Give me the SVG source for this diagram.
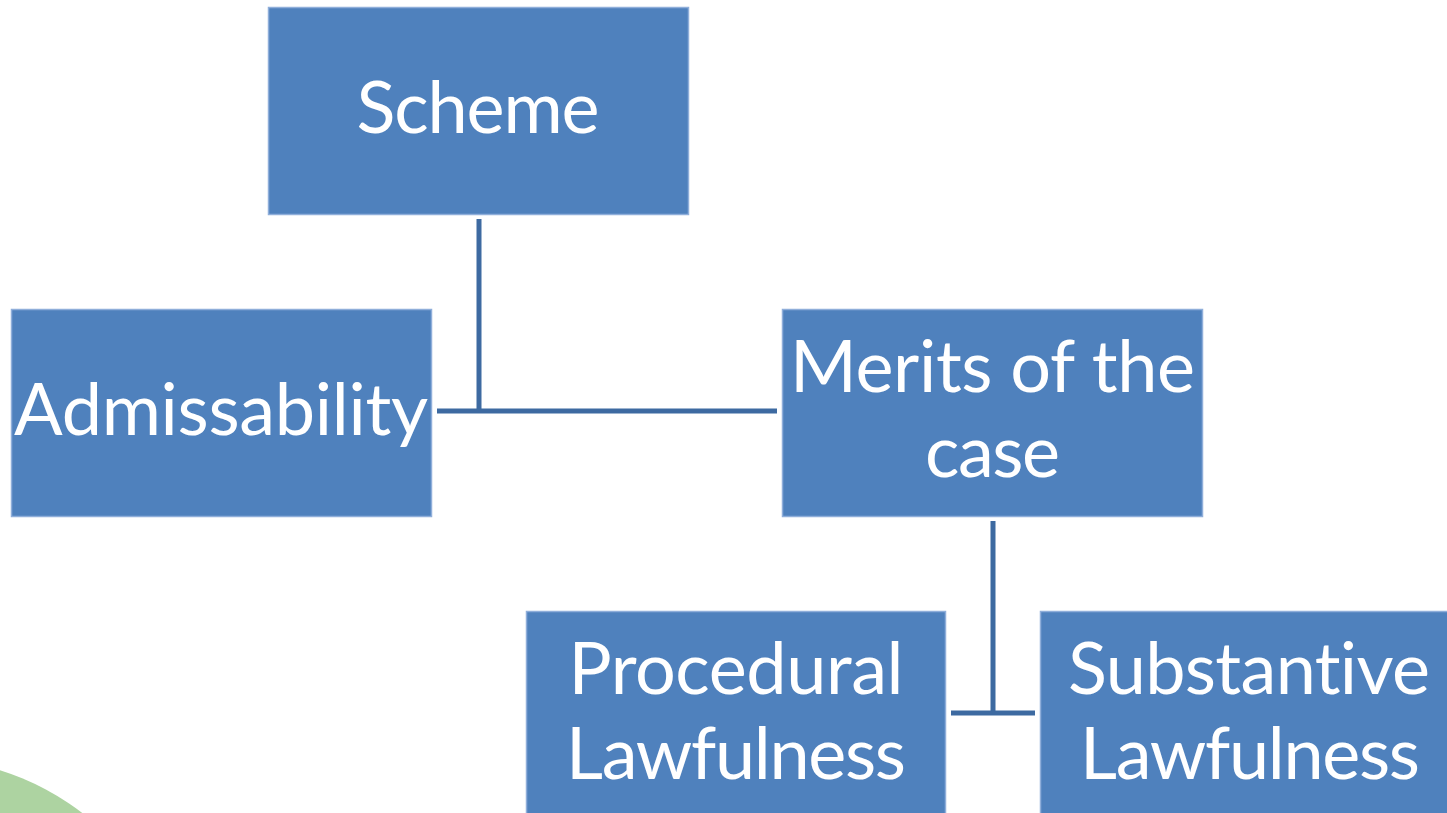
<svg xmlns="http://www.w3.org/2000/svg" width="1447" height="813" viewBox="0 0 1447 813">
<style>
.box{fill:#4F81BD;stroke:#8FAEDA;stroke-width:1.5}
.t{fill:#FFFFFF;font-family:Lato,"Open Sans",sans-serif;font-size:72px;text-anchor:middle;font-variant-ligatures:none;font-feature-settings:"liga" 0,"dlig" 0}
.c{stroke:#3D6AA1;stroke-width:5;fill:none}
</style>
<rect width="1447" height="813" fill="#FFFFFF"/>
<circle cx="-80" cy="1025" r="267" fill="#ADD3A1"/>
<g id="connectors">
<path class="c" d="M479 219 V411 M437 411 H777"/>
<path class="c" d="M993 521 V713 M951 713 H1035"/>
</g>
<g id="scheme"><rect class="box" x="268.5" y="7.5" width="420" height="207"/><text class="t" x="478" y="133" textLength="243">Scheme</text></g>
<g id="admissability"><rect class="box" x="11.5" y="309.5" width="420" height="207"/><text class="t" x="221" y="435" textLength="414">Admissability</text></g>
<g id="merits"><rect class="box" x="782.5" y="309.5" width="420" height="207"/><text class="t" x="992.5" y="392" textLength="405">Merits of the</text><text class="t" x="992.5" y="477" textLength="135">case</text></g>
<g id="procedural"><rect class="box" x="526.5" y="611.5" width="419" height="210"/><text class="t" x="736" y="694" textLength="335">Procedural</text><text class="t" x="736" y="779" textLength="340">Lawfulness</text></g>
<g id="substantive"><rect class="box" x="1040.5" y="611.5" width="420" height="210"/><text class="t" x="1249" y="694" textLength="362">Substantive</text><text class="t" x="1250" y="779" textLength="340">Lawfulness</text></g>
</svg>
